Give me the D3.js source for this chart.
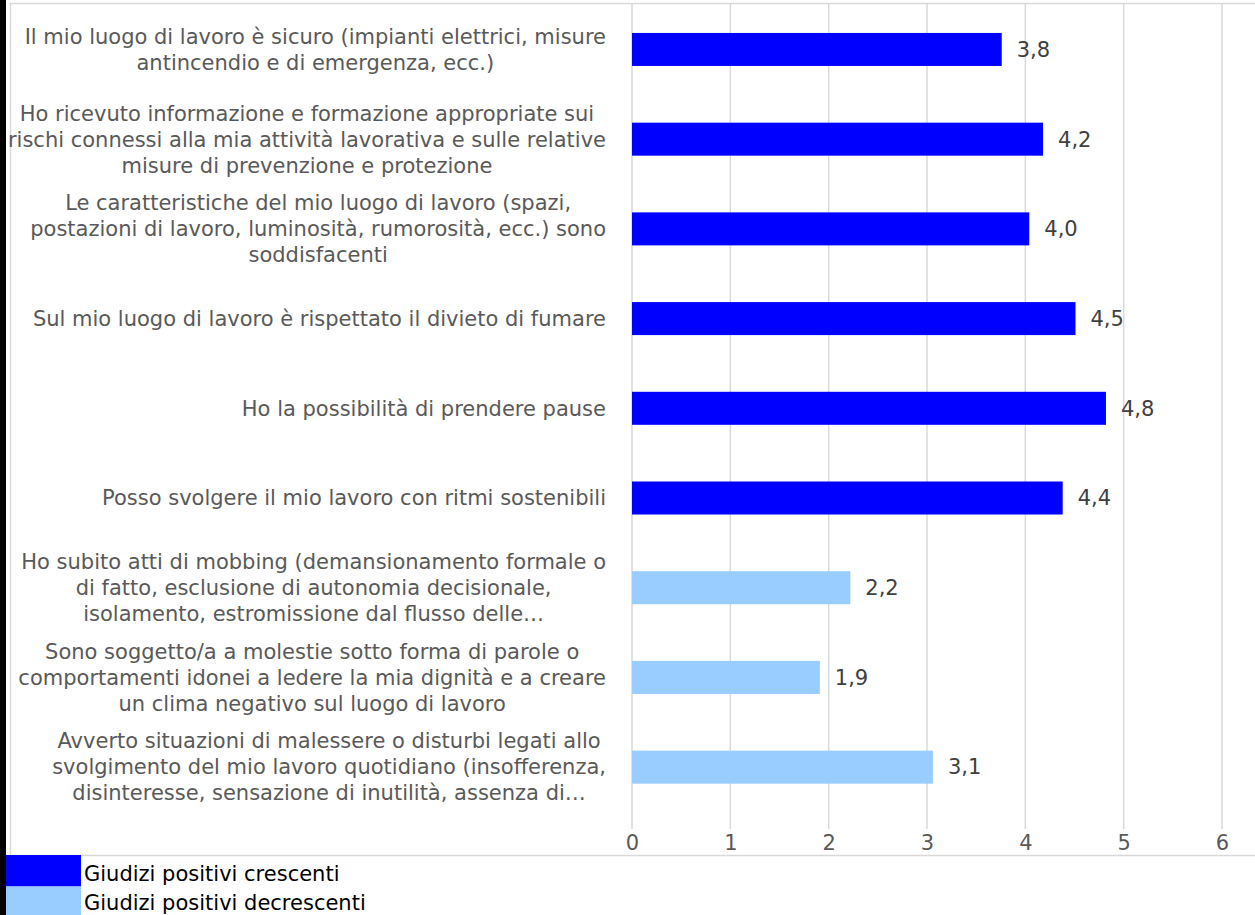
<!DOCTYPE html>
<html>
<head>
<meta charset="utf-8">
<script src="https://cdn.jsdelivr.net/npm/d3@7"></script>
<style>
  html, body { margin: 0; padding: 0; background: #fff; }
  svg { display: block; }
</style>
</head>
<body>
<svg id="chart" width="1255" height="915"></svg>
<script>
const categories = [
  "Il mio luogo di lavoro è sicuro (impianti elettrici, misure\nantincendio e di emergenza, ecc.)",
  "Ho ricevuto informazione e formazione appropriate sui\nrischi connessi alla mia attività lavorativa e sulle relative\nmisure di prevenzione e protezione",
  "Le caratteristiche del mio luogo di lavoro (spazi,\npostazioni di lavoro, luminosità, rumorosità, ecc.) sono\nsoddisfacenti",
  "Sul mio luogo di lavoro è rispettato il divieto di fumare",
  "Ho la possibilità di prendere pause",
  "Posso svolgere il mio lavoro con ritmi sostenibili",
  "Ho subito atti di mobbing (demansionamento formale o\ndi fatto, esclusione di autonomia decisionale,\nisolamento, estromissione dal flusso delle…",
  "Sono soggetto/a a molestie sotto forma di parole o\ncomportamenti idonei a ledere la mia dignità e a creare\nun clima negativo sul luogo di lavoro",
  "Avverto situazioni di malessere o disturbi legati allo\nsvolgimento del mio lavoro quotidiano (insofferenza,\ndisinteresse, sensazione di inutilità, assenza di…"
];
const values = [3.76, 4.18, 4.04, 4.51, 4.82, 4.38, 2.22, 1.91, 3.06];
const seriesOf = ["crescenti","crescenti","crescenti","crescenti","crescenti","crescenti","decrescenti","decrescenti","decrescenti"];
const seriesNames = ["Giudizi positivi crescenti", "Giudizi positivi decrescenti"];
const seriesKeys = ["crescenti", "decrescenti"];
const seriesColors = ["#0000FF", "#99CCFF"];
const xTicks = [0, 1, 2, 3, 4, 5, 6];

const svg = d3.select("#chart");
const FONT = "'DejaVu Sans', Verdana, sans-serif";
const FS = 21;

// left dark strip
svg.append("rect").attr("x", 0).attr("y", 0).attr("width", 6).attr("height", 915).attr("fill", "#000");

// panel border
svg.append("rect").attr("x", 10.5).attr("y", 3.5).attr("width", 1260).attr("height", 852)
  .attr("fill", "#fff").attr("stroke", "#D9D9D9").attr("stroke-width", 1.5);

const x = d3.scaleLinear().domain([0, 6]).range([632, 1222]);
const y = d3.scaleBand().domain(d3.range(categories.length)).range([4.6, 812])
  .paddingInner(0.632).paddingOuter(0.316);
const color = d3.scaleOrdinal().domain(seriesKeys).range(seriesColors);

const gridTop = 4, gridBottom = 829;

// gridlines
svg.append("g").selectAll("line").data(xTicks).join("line")
  .attr("x1", d => x(d)).attr("x2", d => x(d))
  .attr("y1", gridTop).attr("y2", gridBottom)
  .attr("stroke", "#D9D9D9").attr("stroke-width", 1.5);

// x axis tick labels
const xAxis = d3.axisBottom(x).tickValues(xTicks).tickSize(0).tickPadding(0).tickFormat(d3.format("d"));
const gx = svg.append("g").attr("transform", `translate(0, ${gridBottom + 5})`).call(xAxis);
gx.select(".domain").remove();
gx.selectAll("text").attr("font-family", FONT).attr("font-size", FS).attr("fill", "#595959").attr("dy", "0.75em");

// bars
svg.append("g").selectAll("rect").data(values).join("rect")
  .attr("x", x(0))
  .attr("y", (d, i) => y(i))
  .attr("width", d => x(d) - x(0))
  .attr("height", y.bandwidth())
  .attr("fill", (d, i) => color(seriesOf[i]));

// value labels
const fmt = v => v.toFixed(1).replace(".", ",");
svg.append("g").selectAll("text").data(values).join("text")
  .attr("x", d => x(d) + 15)
  .attr("y", (d, i) => y(i) + y.bandwidth() / 2)
  .attr("dy", "0.35em")
  .attr("font-family", FONT).attr("font-size", FS).attr("fill", "#404040")
  .text(d => fmt(d));

// category labels: right-aligned block, centered lines
const lineH = 26;
const labelRight = 606;
const lg = svg.append("g");
categories.forEach((c, i) => {
  const lines = c.split("\n");
  const cy = y(i) + y.bandwidth() / 2;
  const t = lg.append("text")
    .attr("font-family", FONT).attr("font-size", FS).attr("fill", "#595959")
    .attr("text-anchor", "middle");
  const spans = lines.map((ln, k) => t.append("tspan")
    .attr("y", cy + (k - (lines.length - 1) / 2) * lineH)
    .attr("dy", "0.35em").text(ln));
  let maxW = 0;
  spans.forEach(s => { maxW = Math.max(maxW, s.node().getComputedTextLength()); });
  const cx = labelRight - maxW / 2;
  spans.forEach(s => s.attr("x", cx));
});

// legend
const legend = svg.append("g");
seriesNames.forEach((name, i) => {
  legend.append("rect").attr("x", 6).attr("y", 855 + i * 31.5).attr("width", 75).attr("height", 31.5)
    .attr("fill", seriesColors[i]);
  legend.append("text").attr("x", 84).attr("y", 855 + i * 29.5 + 18.5).attr("dy", "0.35em")
    .attr("font-family", FONT).attr("font-size", FS).attr("fill", "#000").text(name);
});
</script>
</body>
</html>
